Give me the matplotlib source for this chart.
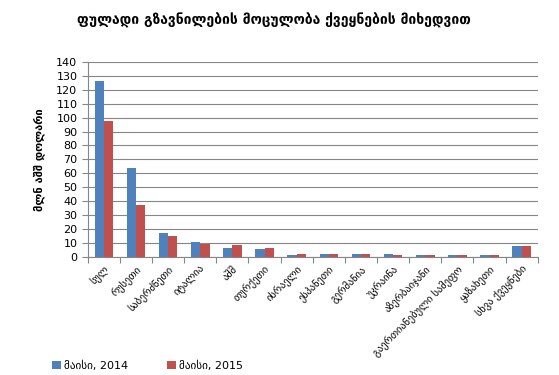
import matplotlib.pyplot as plt
import numpy as np

plt.rcParams['font.family'] = ['DejaVu Sans']

# categories (countries)
categories = ['სულ', 'რუსეთი', 'საბერძნეთი', 'იტალია', 'აშშ', 'თურქეთი', 'ისრაელი',
              'ესპანეთი', 'გერმანია', 'უკრაინა', 'აზერბაიჯანი', 'გაერთიანებული სამეფო',
              'ყაზახეთი', 'სხვა ქვეყნები']

# values, mln USD
may_2014 = [126.6, 63.9, 17.1, 10.8, 6.7, 6.0, 1.7, 2.4, 2.4, 2.4, 1.7, 1.0, 1.7, 8.1]
may_2015 = [97.7, 37.3, 15.0, 9.6, 8.8, 6.7, 2.4, 2.4, 2.4, 1.7, 1.7, 1.7, 1.0, 8.1]

yticks = np.arange(0, 141, 10)

fig = plt.figure(figsize=(5.59, 3.75), dpi=100)
ax = fig.add_axes([0.157, 0.315, 0.805, 0.52])

x = np.arange(len(categories))
w = 0.29
ax.bar(x - w / 2, may_2014, w, color='#4F81BD', label='მაისი, 2014')
ax.bar(x + w / 2, may_2015, w, color='#C0504D', label='მაისი, 2015')

ax.set_xlim(-0.5, len(categories) - 0.5)
ax.set_ylim(0, 140)
ax.set_yticks(yticks)
ax.tick_params(axis='y', labelsize=8, length=4, color='#868686', direction='out')
ax.yaxis.grid(True, color='#868686', linewidth=0.8)
ax.set_axisbelow(True)

# category boundaries as tick marks, labels in the middle
ax.set_xticks(np.arange(len(categories) + 1) - 0.5)
ax.set_xticklabels([])
ax.tick_params(axis='x', length=4, color='#868686')
ax.set_xticks(x, minor=True)
ax.set_xticklabels(categories, minor=True, rotation=45, ha='right',
                   rotation_mode='anchor', fontsize=7.5)
ax.tick_params(axis='x', which='minor', length=0, pad=5)

for s in ['top', 'right']:
    ax.spines[s].set_visible(False)
for s in ['left', 'bottom']:
    ax.spines[s].set_color('#868686')

ax.set_ylabel('მლნ აშშ დოლარი', fontsize=8, fontweight='bold', labelpad=8)

fig.text(0.49, 0.945, 'ფულადი გზავნილების მოცულობა ქვეყნების მიხედვით',
         ha='center', va='center', fontsize=10, fontweight='bold')

fig.legend(loc='lower left', bbox_to_anchor=(0.075, -0.015), ncol=2, frameon=False,
           fontsize=8, handlelength=0.8, handleheight=0.8, columnspacing=3.5,
           handletextpad=0.3)

fig.savefig('out.png', dpi=100)
